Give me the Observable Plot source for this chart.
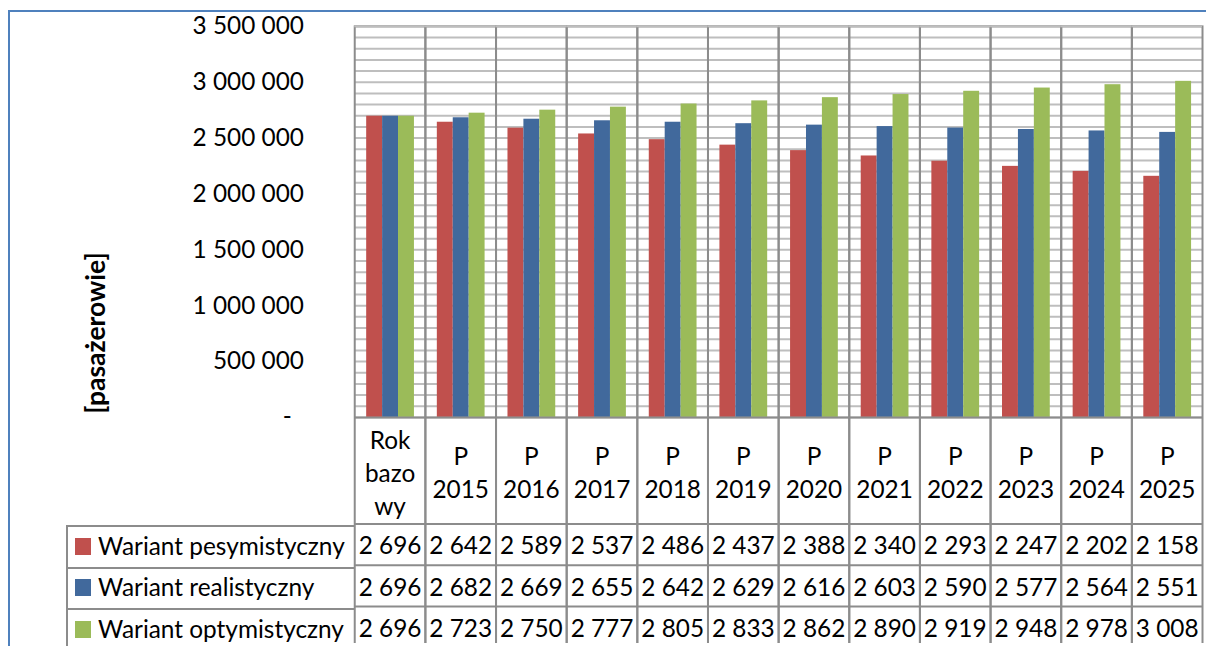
<!DOCTYPE html>
<html>
<head>
<meta charset="utf-8">
<script src="https://cdn.jsdelivr.net/npm/d3@7"></script>
<script src="https://cdn.jsdelivr.net/npm/@observablehq/plot@0.6"></script>
<style>
  html, body { margin: 0; padding: 0; background: #fff; overflow: hidden; width: 1206px; height: 646px; }
  #wrap { position: relative; width: 1206px; height: 646px; overflow: hidden; font-family: Lato, "Liberation Sans", sans-serif; color: #000; }
  #wrap svg { position: absolute; left: 0; top: 0; }
  .abs { position: absolute; }
</style>
</head>
<body>
<div id="wrap"></div>
<script>
// ---- data (values in thousands of passengers) ----
const categories = ["Rok bazowy", "P 2015", "P 2016", "P 2017", "P 2018", "P 2019", "P 2020", "P 2021", "P 2022", "P 2023", "P 2024", "P 2025"];
const categoryLabels = ["Rok\nbazo\nwy", "P\n2015", "P\n2016", "P\n2017", "P\n2018", "P\n2019", "P\n2020", "P\n2021", "P\n2022", "P\n2023", "P\n2024", "P\n2025"];
const seriesNames = ["Wariant pesymistyczny", "Wariant realistyczny", "Wariant optymistyczny"];
const pesymistyczny = [2696, 2642, 2589, 2537, 2486, 2437, 2388, 2340, 2293, 2247, 2202, 2158];
const realistyczny = [2696, 2682, 2669, 2655, 2642, 2629, 2616, 2603, 2590, 2577, 2564, 2551];
const optymistyczny = [2696, 2723, 2750, 2777, 2805, 2833, 2862, 2890, 2919, 2948, 2978, 3008];
const seriesColors = ["#C0504D", "#41699C", "#9BBB59"];
const yTicks = [0, 500000, 1000000, 1500000, 2000000, 2500000, 3000000, 3500000];
const yTitle = "[pasażerowie]";

// ---- build table ----
const seriesValues = [pesymistyczny, realistyczny, optymistyczny];
const locale = d3.formatLocale({decimal: ",", thousands: " ", grouping: [3], currency: ["", ""]});
const fmt = locale.format(",d");
const rows = [];
categories.forEach((c, i) => seriesNames.forEach((s, j) => {
  rows.push({category: c, series: s, value: seriesValues[j][i] * 1000, label: fmt(seriesValues[j][i])});
}));

const FONT = 'Lato, "Liberation Sans", sans-serif';
const gridGray = "#BEBEBE";
const lineGray = "#8C8C8C";
const rowStep = 41.5;
const headerDy = 54;
const firstRowLineDy = 107;

const marks = [
  Plot.gridY({interval: 100000, stroke: gridGray, strokeOpacity: 1, strokeWidth: 2}),
  Plot.barY(rows, {fx: "category", x: "series", y: "value", fill: "series"}),
  Plot.frame({stroke: lineGray, strokeWidth: 2, insetBottom: -260}),
  Plot.ruleY([3500000], {stroke: gridGray, strokeWidth: 2}),
  Plot.ruleY([0], {stroke: lineGray, strokeWidth: 2}),
  Plot.axisY({ticks: yTicks, tickFormat: d => d === 0 ? "-\u2002" : fmt(d), tickSize: 0, tickPadding: 51, label: null, fontSize: 24.5}),
  Plot.text(categories, {fx: d => d, text: (d, i) => categoryLabels[i], frameAnchor: "bottom", lineAnchor: "middle", dy: headerDy, lineHeight: 1.36, fontSize: 24.5})
];
seriesNames.forEach((s, j) => {
  marks.push(Plot.ruleY([0], {stroke: lineGray, strokeWidth: 2, dy: firstRowLineDy + j * rowStep}));
  marks.push(Plot.text(rows.filter(r => r.series === s), {fx: "category", text: "label", frameAnchor: "bottom", lineAnchor: "middle", dy: firstRowLineDy + rowStep / 2 + 2 + j * rowStep, fontSize: 24.5}));
});

const chart = Plot.plot({
  width: 1212, height: 646,
  marginTop: 26, marginBottom: 227, marginLeft: 354, marginRight: 3,
  style: {fontFamily: FONT, fontSize: "24.5px", color: "#000", background: "transparent"},
  fx: {domain: categories, padding: 0, axis: null},
  x: {domain: seriesNames, paddingInner: 0, paddingOuter: 0.68, axis: null},
  y: {domain: [0, 3500000], axis: null},
  color: {domain: seriesNames, range: seriesColors},
  marks
});
const wrap = document.getElementById("wrap");
wrap.appendChild(chart);

// ---- outer chart border (blue) ----
const border = document.createElement("div");
border.className = "abs";
Object.assign(border.style, {left: "8px", top: "10px", width: "1400px", height: "800px", borderTop: "2px solid #4F81BD", borderLeft: "2px solid #4F81BD"});
wrap.appendChild(border);

// ---- y-axis title ----
const t = document.createElement("div");
t.className = "abs";
t.textContent = yTitle;
Object.assign(t.style, {left: "95px", top: "333px", transform: "translate(-50%,-50%) rotate(-90deg)", fontWeight: "bold", fontSize: "26.5px", whiteSpace: "nowrap", lineHeight: "1"});
wrap.appendChild(t);

// ---- legend column of the data table ----
const legLeft = 67, legRight = 354, bottomY = 419;
const vline = document.createElement("div");
vline.className = "abs";
Object.assign(vline.style, {left: (legLeft - 1) + "px", top: (bottomY + firstRowLineDy) + "px", width: "2px", height: "200px", background: lineGray});
wrap.appendChild(vline);
seriesNames.forEach((s, j) => {
  const top = bottomY + firstRowLineDy + j * rowStep;
  const hl = document.createElement("div");
  hl.className = "abs";
  Object.assign(hl.style, {left: (legLeft - 1) + "px", top: (top - 1) + "px", width: (legRight - legLeft + 2) + "px", height: "2px", background: lineGray});
  wrap.appendChild(hl);
  const cy = top + rowStep / 2;
  const sw = document.createElement("div");
  sw.className = "abs";
  Object.assign(sw.style, {left: "75px", top: (cy - 9) + "px", width: "16px", height: "17px", background: seriesColors[j]});
  wrap.appendChild(sw);
  const tx = document.createElement("div");
  tx.className = "abs";
  tx.textContent = s;
  Object.assign(tx.style, {left: "98px", top: (cy - 1) + "px", transform: "translateY(-50%)", fontSize: "24.4px", whiteSpace: "nowrap", lineHeight: "1"});
  wrap.appendChild(tx);
});
</script>
</body>
</html>
